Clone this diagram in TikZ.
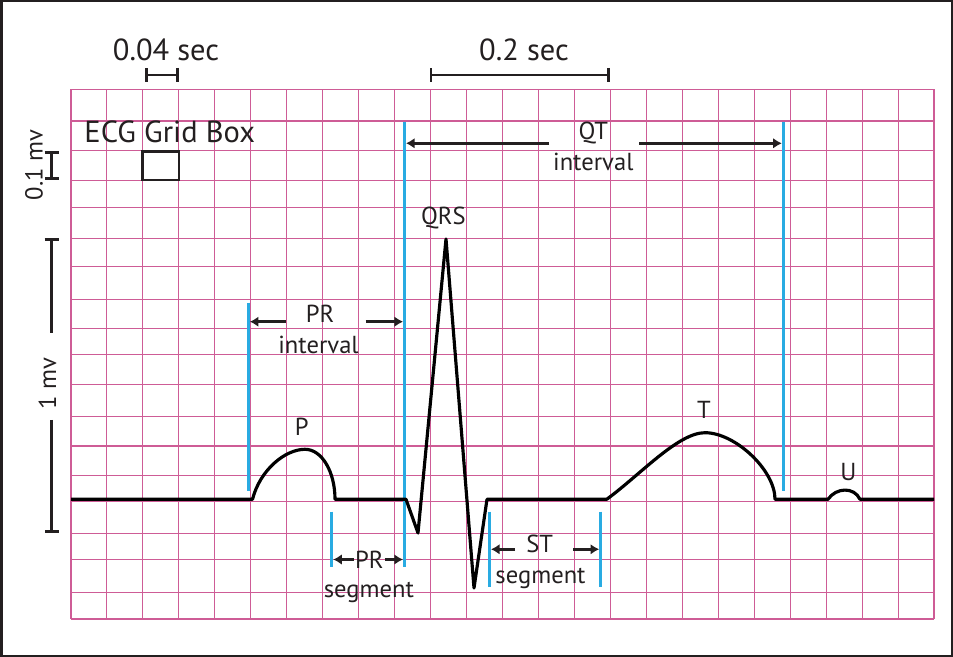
\documentclass[tikz,border=0pt]{standalone}
\usepackage{fontspec}
\setmainfont{PT Sans}
\usetikzlibrary{arrows.meta}

\definecolor{gridpink}{RGB}{206,92,150}
\definecolor{ecgblue}{RGB}{41,171,226}
\definecolor{inkgray}{RGB}{35,31,32}

\begin{document}
\begin{tikzpicture}
[x=0.3mm,y=-0.3mm,%
  every node/.style={inner sep=1pt,text=inkgray},%
  title/.style={font=\fontsize{26}{30}\selectfont},%
  lbl/.style={font=\fontsize{21}{25}\selectfont},%
  gridline/.style={gridpink,line width=0.9pt},%
  trace/.style={line width=2.7pt,black,line join=round},%
  marker/.style={line width=2.8pt,ecgblue},%
  ptr/.style={line width=2.1pt,inkgray,shorten >=0.45mm,-{Latex[length=2.6mm,width=3.2mm]}},%
  scalebar/.style={line width=2.4pt,inkgray,{Bar[width=4.2mm]}-{Bar[width=4.2mm]}}]
\useasboundingbox (0,0) rectangle (953,657);
\draw[line width=0.75mm,inkgray] (1.25,1.25) rectangle (951.75,655.75);

% paper grid
\foreach \i in {0,...,24}
  \draw[gridline] (71+35.958*\i,89.3) -- (71+35.958*\i,619);
\foreach \y in {89.3,121,150.7,180.3,207.3,238.3,266.7,299.3,328.3,354.3,
                384.3,416.7,446,475.7,501.7,533.3,559.3,592.7,619}
  \draw[gridline] (71,\y) -- (934,\y);

% scales
\node[title] (secsmall) at (166,50) {0.04 sec};
\draw[scalebar] (145,75) -- (179,75);
\node[title] (secbig) at (524,50) {0.2 sec};
\draw[scalebar] (429.5,75) -- (609.5,75);
\node[title] (gridbox) at (169.7,132.2) {ECG Grid Box};
\draw[line width=2pt,inkgray] (142.5,151.5) rectangle (179,180);
\node[lbl,rotate=90] (tenthmv) at (34,165) {0.1 mv};
\draw[scalebar] (51.7,151.5) -- (51.7,180);
\node[lbl,rotate=90] (onemv) at (47.5,384) {1 mv};
\coordinate (mvtop) at (51.7,238);
\coordinate (mvbot) at (51.7,533);
\draw[line width=2.4pt,inkgray,{Bar[width=4.2mm]}-] (mvtop) -- (51.7,333);
\draw[line width=2.4pt,inkgray,-{Bar[width=4.2mm]}] (51.7,420) -- (mvbot);

% interval markers
\draw[marker] (248.3,302.7) coordinate (pStart) -- (248.3,491);
\draw[marker] (404.5,121.7) coordinate (qStart) -- (404.5,566.7);
\draw[marker] (783.3,121.7) coordinate (tEnd) -- (783.3,490.7);
\draw[marker] (331.7,511.7) coordinate (pEnd) -- (331.7,566.7);
\draw[marker] (489.5,511.7) coordinate (sEnd) -- (489.5,586.7);
\draw[marker] (600.7,511.7) coordinate (tStart) -- (600.7,586.7);

% ecg trace
\draw[trace] (71,499.3) -- (252.5,499.3)
  .. controls (260,470) and (285,449.3) .. (305,449.3)
  .. controls (322,449.3) and (335,472) .. (335,499.3)
  -- (406,499.3) -- (418,533) -- (446,239) -- (474,588) -- (487,499.3)
  -- (606.7,499.3)
  .. controls (640,475) and (678,432.7) .. (705,432.7)
  .. controls (735,432.7) and (775,470) .. (775,499.3)
  -- (828,499.3)
  .. controls (836,487.5) and (854,486.5) .. (860,499.3)
  -- (934,499.3);

% wave labels
\node[lbl] (qrs) at (443.3,218.3) {QRS};
\node[lbl] (pwave) at (301.7,427) {P};
\node[lbl] (twave) at (704,410.3) {T};
\node[lbl] (uwave) at (848.3,471.7) {U};

% QT interval
\node[lbl] (qtname) at (593.3,132.7) {QT};
\node[lbl] (qtword) at (593.3,161.7) {interval};
\coordinate (qtTailL) at (549,143.3);
\coordinate (qtTailR) at (639.3,143.3);
\draw[ptr] (qtTailL) -- (qtTailL -| qStart);
\draw[ptr] (qtTailR) -- (qtTailR -| tEnd);

% PR interval
\node[lbl] (priname) at (320,313.3) {PR};
\node[lbl] (priword) at (318.5,344.5) {interval};
\coordinate (prTailL) at (286,321.7);
\coordinate (prTailR) at (365.7,321.7);
\draw[ptr] (prTailL) -- (prTailL -| pStart);
\draw[ptr] (prTailR) -- (prTailR -| qStart);

% PR segment
\node[lbl] (prsegname) at (369.3,559.5) {PR};
\node[lbl] (prsegword) at (368.8,592.8) {segment};
\draw[ptr] (prsegname.west) -- (prsegname.west -| pEnd);
\draw[ptr] (prsegname.east) -- (prsegname.east -| qStart);

% ST segment
\node[lbl] (stname) at (539.7,544.2) {ST};
\node[lbl] (stword) at (540.5,578.8) {segment};
\coordinate (stTailL) at (515,549.3);
\coordinate (stTailR) at (573.3,549.3);
\draw[ptr] (stTailL) -- (stTailL -| sEnd);
\draw[ptr] (stTailR) -- (stTailR -| tStart);
\end{tikzpicture}
\end{document}
